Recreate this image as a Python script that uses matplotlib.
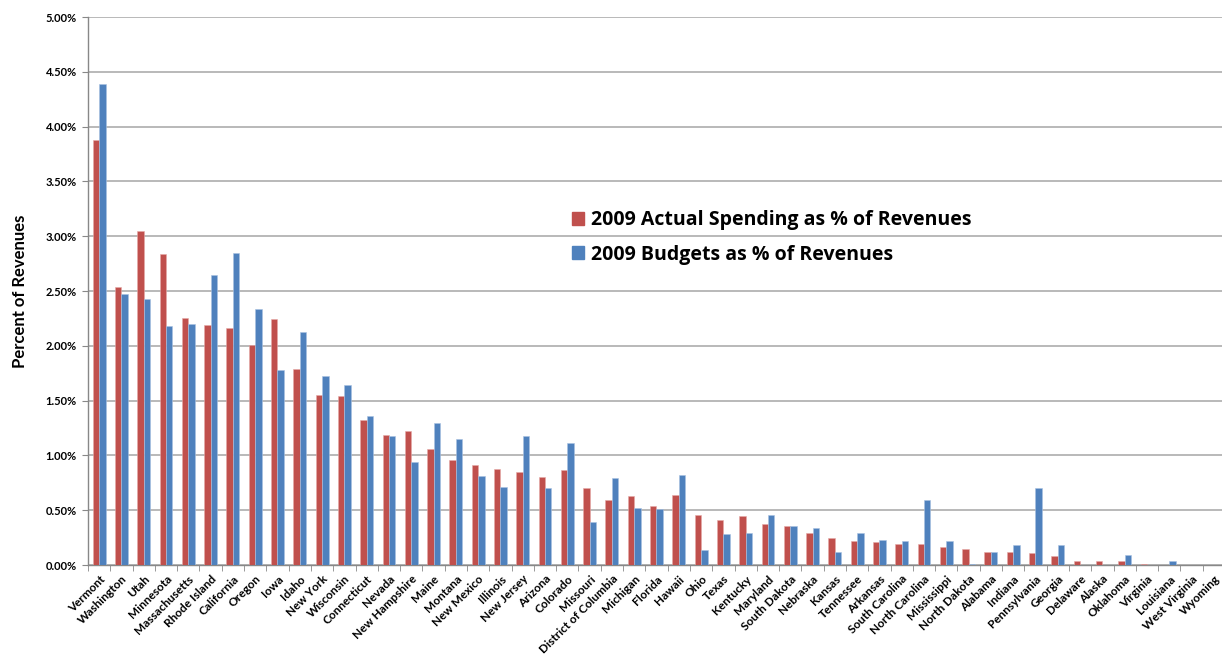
import matplotlib

matplotlib.use("Agg")
import matplotlib.pyplot as plt
import numpy as np
from matplotlib.patches import Patch

plt.rcParams["font.family"] = ["Lato", "DejaVu Sans"]

states = [
    "Vermont", "Washington", "Utah", "Minnesota", "Massachusetts", "Rhode Island",
    "California", "Oregon", "Iowa", "Idaho", "New York", "Wisconsin", "Connecticut",
    "Nevada", "New Hampshire", "Maine", "Montana", "New Mexico", "Illinois",
    "New Jersey", "Arizona", "Colorado", "Missouri", "District of Columbia",
    "Michigan", "Florida", "Hawaii", "Ohio", "Texas", "Kentucky", "Maryland",
    "South Dakota", "Nebraska", "Kansas", "Tennessee", "Arkansas", "South Carolina",
    "North Carolina", "Mississippi", "North Dakota", "Alabama", "Indiana",
    "Pennsylvania", "Georgia", "Delaware", "Alaska", "Oklahoma", "Virginia",
    "Louisiana", "West Virginia", "Wyoming",
]

# percent of revenues
actual = [
    3.88, 2.54, 3.05, 2.84, 2.25, 2.19, 2.16, 2.01, 2.24, 1.79, 1.55, 1.54, 1.32,
    1.19, 1.22, 1.06, 0.96, 0.91, 0.88, 0.85, 0.80, 0.87, 0.70, 0.59, 0.63, 0.54,
    0.64, 0.46, 0.41, 0.45, 0.37, 0.36, 0.29, 0.25, 0.22, 0.21, 0.19, 0.19, 0.16,
    0.15, 0.12, 0.12, 0.11, 0.08, 0.04, 0.035, 0.04, 0.01, 0.0, 0.0, 0.0,
]
budget = [
    4.39, 2.47, 2.43, 2.18, 2.20, 2.65, 2.85, 2.34, 1.78, 2.13, 1.72, 1.64, 1.36,
    1.18, 0.94, 1.30, 1.15, 0.81, 0.71, 1.18, 0.70, 1.11, 0.39, 0.79, 0.52, 0.51,
    0.82, 0.14, 0.28, 0.29, 0.46, 0.36, 0.34, 0.12, 0.29, 0.23, 0.22, 0.59, 0.22,
    0.01, 0.12, 0.18, 0.70, 0.18, 0.0, 0.0, 0.09, 0.0, 0.04, 0.0, 0.0,
]

RED = "#C0504D"
BLUE = "#4F81BD"

fig = plt.figure(figsize=(12.22, 6.54), dpi=100)
ax = fig.add_axes([88 / 1222, 89 / 654, 1137 / 1222, 548 / 654])

x = np.arange(len(states))
w = 0.29
ax.bar(x - w / 2, actual, w, color=RED, edgecolor="#E6A9A7", linewidth=0.4, zorder=3)
ax.bar(x + w / 2, budget, w, color=BLUE, edgecolor="#A9C2E2", linewidth=0.4, zorder=3)

ax.set_xlim(-0.5, len(states) - 0.5)
ax.set_ylim(0, 5)
ax.set_yticks(np.arange(0, 5.01, 0.5))
ax.set_yticklabels([f"{v:.2f}%" for v in np.arange(0, 5.01, 0.5)],
                   fontsize=8, fontweight="bold")
ax.yaxis.grid(True, color="#A6A6A6", linewidth=1.1, zorder=0)
ax.tick_params(axis="y", length=4, color="#888888", pad=4)

ax.set_xticks(x)
ax.set_xticklabels(states, rotation=45, ha="right", rotation_mode="anchor",
                   fontsize=8.5, fontweight="bold")
ax.tick_params(axis="x", which="major", length=0, pad=6)
ax.set_xticks(np.arange(-0.5, len(states), 1), minor=True)
ax.tick_params(axis="x", which="minor", length=4, color="#888888")

for side in ("top", "right"):
    ax.spines[side].set_visible(False)
for side in ("left", "bottom"):
    ax.spines[side].set_color("#888888")
    ax.spines[side].set_linewidth(1.0)

ax.set_ylabel("Percent of Revenues", fontsize=12, fontweight="bold", labelpad=13)

handles = [Patch(color=RED), Patch(color=BLUE)]
ax.legend(handles, ["2009 Actual Spending as % of Revenues", "2009 Budgets as % of Revenues"],
          loc="upper left", bbox_to_anchor=(0.4257, 0.647), frameon=False,
          prop={"family": "Open Sans", "size": 14, "weight": "bold"},
          borderpad=0, borderaxespad=0,
          handlelength=0.62, handleheight=0.62,
          handletextpad=0.36, labelspacing=0.73)

fig.savefig("out.png", dpi=100)
